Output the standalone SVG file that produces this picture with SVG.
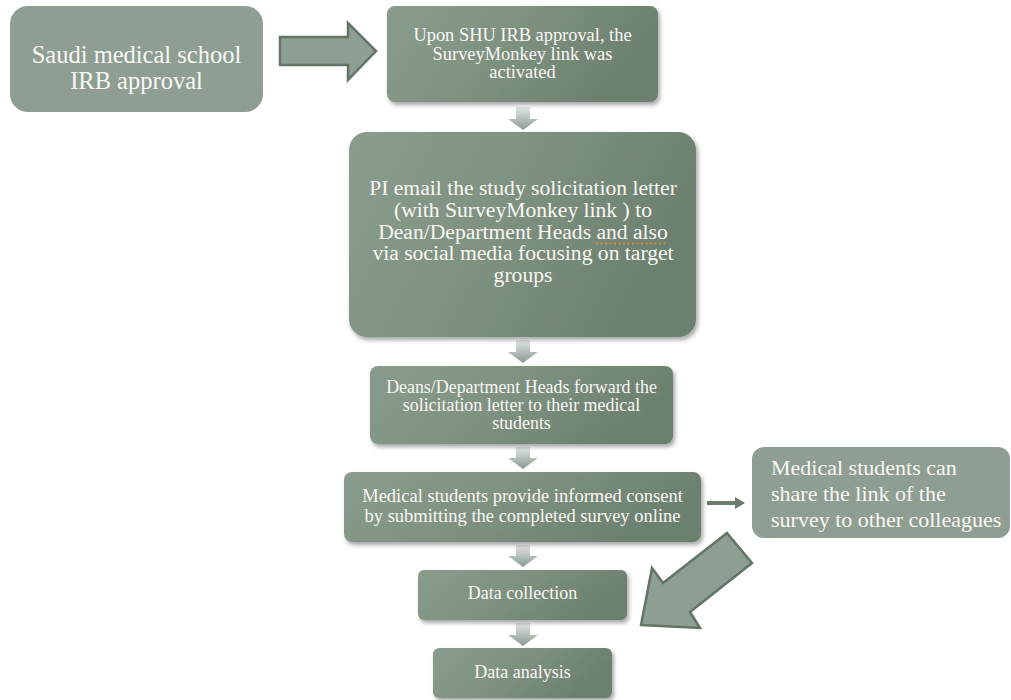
<svg xmlns="http://www.w3.org/2000/svg" width="1011" height="700" viewBox="0 0 1011 700">
<defs>
<style>
.flat{fill:#8e9e93;}
.grad{fill:url(#boxg);filter:url(#sh);}
.t{font-family:"Liberation Serif","Times New Roman",serif;fill:#f8f8f3;text-anchor:middle;}
.tl{font-family:"Liberation Serif","Times New Roman",serif;fill:#f8f8f3;text-anchor:start;}
.down{fill:url(#arrg);}
.blk{fill:#8e9e93;stroke:#627465;stroke-width:2.5;stroke-linejoin:miter;}
</style>
<linearGradient id="boxg" x1="0" y1="0" x2="1" y2="0.3">
<stop offset="0" stop-color="#8a9c8d"/>
<stop offset="0.5" stop-color="#7f9282"/>
<stop offset="1" stop-color="#6c8070"/>
</linearGradient>
<linearGradient id="arrg" x1="0" y1="0" x2="0" y2="1">
<stop offset="0" stop-color="#e2e6e3"/>
<stop offset="0.5" stop-color="#b6c0b8"/>
<stop offset="1" stop-color="#8a998e"/>
</linearGradient>
<filter id="sh" x="-10%" y="-10%" width="120%" height="130%">
<feDropShadow dx="2" dy="3" stdDeviation="2" flood-color="#000" flood-opacity="0.35"/>
</filter>
</defs>

<g id="connectors">
<polygon class="blk" points="280,37 348,37 348,23 376,51 348,80 348,65 280,65"/>
<polygon class="down" points="516,107 530,107 530,119 538,119 523,130 508,119 516,119"/>
<polygon class="down" points="516,340 530,340 530,352 538,352 523,363 508,352 516,352"/>
<polygon class="down" points="516,447 530,447 530,458 538,458 523,469 508,458 516,458"/>
<polygon class="down" points="516,545 530,545 530,556 538,556 523,567 508,556 516,556"/>
<polygon class="down" points="516,623 530,623 530,635 538,635 523,646 508,635 516,635"/>
<line x1="707" y1="503" x2="737" y2="503" stroke="#6b7b6f" stroke-width="4"/>
<polygon points="735,497 745,503 735,509" fill="#6b7b6f"/>
<polygon class="blk" points="727,533 752,563 690,612 700,628 641,625 652,568 663,583"/>
</g>

<g id="n1">
<rect class="flat" x="10" y="6" width="253" height="106" rx="18"/>
<text class="t" font-size="24.5" x="136.5" y="63">Saudi medical school</text>
<text class="t" font-size="24.5" x="136.5" y="89">IRB approval</text>
</g>

<g id="n2">
<rect class="grad" x="387" y="6" width="271" height="96" rx="8"/>
<text class="t" font-size="18.4" x="522.5" y="41">Upon SHU IRB approval, the</text>
<text class="t" font-size="18.4" x="522.5" y="59.5">SurveyMonkey link was</text>
<text class="t" font-size="18.4" x="522.5" y="78">activated</text>
</g>

<g id="n3">
<rect class="grad" x="349" y="132" width="347" height="205" rx="18"/>
<text class="t" font-size="21.6" x="523" y="195">PI email the study solicitation letter</text>
<text class="t" font-size="21.6" x="523" y="216.8">(with SurveyMonkey link ) to</text>
<text class="t" font-size="21.6" x="523" y="238.6">Dean/Department Heads and also</text>
<text class="t" font-size="21.6" x="523" y="260.4">via social media focusing on target</text>
<text class="t" font-size="21.6" x="523" y="282.2">groups</text>
<line x1="596" y1="243.5" x2="667" y2="243.5" stroke="#c98b3c" stroke-width="2" stroke-dasharray="2,2.5"/>
</g>

<g id="n4">
<rect class="grad" x="370" y="366" width="303" height="78" rx="8"/>
<text class="t" font-size="17.9" x="521.5" y="393">Deans/Department Heads forward the</text>
<text class="t" font-size="17.9" x="521.5" y="411">solicitation letter to their medical</text>
<text class="t" font-size="17.9" x="521.5" y="429">students</text>
</g>

<g id="n5">
<rect class="grad" x="344" y="472" width="357" height="70" rx="8"/>
<text class="t" font-size="18.5" x="522.5" y="502">Medical students provide informed consent</text>
<text class="t" font-size="18.5" x="522.5" y="522">by submitting the completed survey online</text>
</g>

<g id="n6">
<rect class="flat" x="752" y="447" width="258" height="91" rx="12"/>
<text class="tl" font-size="22" x="771" y="475">Medical students can</text>
<text class="tl" font-size="22" x="771" y="501">share the link of the</text>
<text class="tl" font-size="22" x="771" y="527">survey to other colleagues</text>
</g>

<g id="n7">
<rect class="grad" x="418" y="570" width="209" height="50" rx="6"/>
<text class="t" font-size="18" x="522.5" y="599">Data collection</text>
</g>

<g id="n8">
<rect class="grad" x="433" y="648" width="179" height="50" rx="6"/>
<text class="t" font-size="18" x="522.5" y="678">Data analysis</text>
</g>
</svg>
